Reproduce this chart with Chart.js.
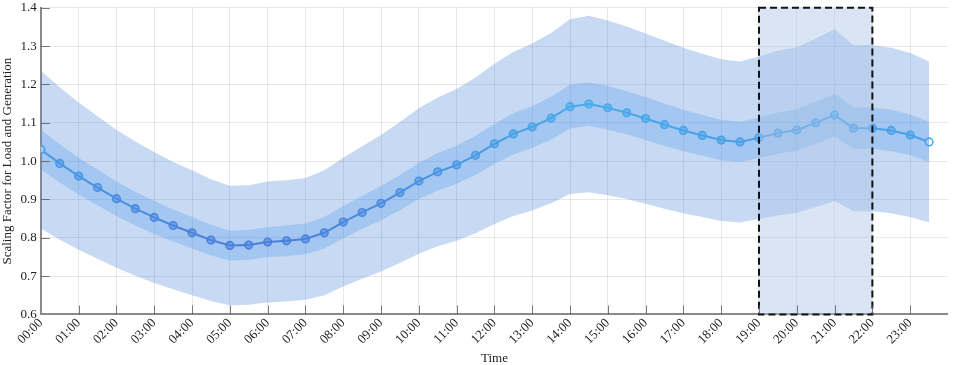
<!DOCTYPE html>
<html>
<head>
<meta charset="utf-8">
<script src="https://cdn.jsdelivr.net/npm/chart.js@4/dist/chart.umd.min.js"></script>
<style>
  html, body { margin: 0; padding: 0; background: #fff; overflow: hidden; }
  #wrap { width: 960px; height: 369px; margin-top: -4px; }
</style>
</head>
<body>
<div id="wrap"><canvas id="scaling"></canvas></div>
<script>
// Half-hourly time stamps
var times = ['00:00','00:30','01:00','01:30','02:00','02:30','03:00','03:30','04:00','04:30',
    '05:00','05:30','06:00','06:30','07:00','07:30','08:00','08:30','09:00','09:30',
    '10:00','10:30','11:00','11:30','12:00','12:30','13:00','13:30','14:00','14:30',
    '15:00','15:30','16:00','16:30','17:00','17:30','18:00','18:30','19:00','19:30',
    '20:00','20:30','21:00','21:30','22:00','22:30','23:00','23:30'];

// Mean scaling factor
var factor = [1.030, 0.994, 0.961, 0.931, 0.902, 0.876, 0.853, 0.832, 0.813, 0.794,
    0.780, 0.781, 0.789, 0.792, 0.797, 0.813, 0.841, 0.866, 0.890, 0.918,
    0.948, 0.972, 0.990, 1.015, 1.045, 1.071, 1.089, 1.112, 1.142, 1.149,
    1.139, 1.126, 1.111, 1.095, 1.080, 1.067, 1.055, 1.050, 1.061, 1.073,
    1.081, 1.100, 1.120, 1.086, 1.086, 1.080, 1.068, 1.050];

// Wide band (upper / lower)
var outerUpper = [1.236, 1.193, 1.153, 1.117, 1.082, 1.051, 1.024, 0.998, 0.976, 0.953,
    0.936, 0.937, 0.947, 0.950, 0.956, 0.976, 1.009, 1.039, 1.068, 1.102,
    1.138, 1.166, 1.188, 1.218, 1.254, 1.285, 1.307, 1.334, 1.370, 1.379,
    1.367, 1.351, 1.333, 1.314, 1.296, 1.280, 1.266, 1.260, 1.273, 1.288,
    1.297, 1.320, 1.344, 1.303, 1.303, 1.296, 1.282, 1.260];
var outerLower = [0.824, 0.795, 0.769, 0.745, 0.722, 0.701, 0.682, 0.666, 0.650, 0.635,
    0.624, 0.625, 0.631, 0.634, 0.638, 0.650, 0.673, 0.693, 0.712, 0.734,
    0.758, 0.778, 0.792, 0.812, 0.836, 0.857, 0.871, 0.890, 0.914, 0.919,
    0.911, 0.901, 0.889, 0.876, 0.864, 0.854, 0.844, 0.840, 0.849, 0.858,
    0.865, 0.880, 0.896, 0.869, 0.869, 0.864, 0.854, 0.840];

// Narrow band (upper / lower)
var innerUpper = [1.082, 1.044, 1.009, 0.978, 0.947, 0.920, 0.896, 0.874, 0.854, 0.834,
    0.819, 0.820, 0.828, 0.832, 0.837, 0.854, 0.883, 0.909, 0.935, 0.964,
    0.995, 1.021, 1.040, 1.066, 1.097, 1.125, 1.143, 1.168, 1.199, 1.206,
    1.196, 1.182, 1.167, 1.150, 1.134, 1.120, 1.108, 1.103, 1.114, 1.127,
    1.135, 1.155, 1.176, 1.140, 1.140, 1.134, 1.121, 1.103];
var innerLower = [0.979, 0.944, 0.913, 0.884, 0.857, 0.832, 0.810, 0.790, 0.772, 0.754,
    0.741, 0.742, 0.750, 0.752, 0.757, 0.772, 0.799, 0.823, 0.846, 0.872,
    0.901, 0.923, 0.941, 0.964, 0.993, 1.017, 1.035, 1.056, 1.085, 1.092,
    1.082, 1.070, 1.055, 1.040, 1.026, 1.014, 1.002, 0.998, 1.008, 1.019,
    1.027, 1.045, 1.064, 1.032, 1.032, 1.026, 1.015, 0.998];

// Highlighted window (hours)
var windowStart = 19;
var windowEnd = 22;

var FONT = "'Liberation Serif', 'DejaVu Serif', serif";

function toHour(t) {
    var p = t.split(':');
    return Number(p[0]) + Number(p[1]) / 60;
}

function points(values) {
    return values.map(function (v, i) { return { x: toHour(times[i]), y: v }; });
}

/**
 * Colour along the line, dark blue for low values, cyan for high
 * @param {Number} v
 * @param {Number} a alpha
 */
function valueColor(v, a) {
    var t = Math.max(0, Math.min(1, (v - 0.78) / (1.15 - 0.78)));
    var r = Math.round(74 + (70 - 74) * t);
    var g = Math.round(108 + (198 - 108) * t);
    var b = Math.round(214 + (248 - 214) * t);
    return 'rgba(' + r + ',' + g + ',' + b + ',' + a + ')';
}

var last = factor.length - 1;

const windowBox = {
    id: 'windowBox',
    afterDatasetsDraw(chart) {
        const { ctx, chartArea, scales } = chart;
        const x0 = scales.x.getPixelForValue(windowStart);
        const x1 = scales.x.getPixelForValue(windowEnd);
        const y0 = scales.y.getPixelForValue(1.4);
        const y1 = scales.y.getPixelForValue(0.6);
        ctx.save();
        ctx.fillStyle = 'rgba(170,196,232,0.45)';
        ctx.fillRect(x0, y0, x1 - x0, y1 - y0);
        ctx.strokeStyle = '#111';
        ctx.lineWidth = 2;
        ctx.setLineDash([7, 4]);
        ctx.strokeRect(x0, y0, x1 - x0, y1 - y0);
        ctx.restore();
    },
    afterDraw(chart) {
        // inward tick marks
        const { ctx, chartArea, scales } = chart;
        ctx.save();
        ctx.strokeStyle = 'rgba(90,90,90,0.8)';
        ctx.lineWidth = 1;
        scales.x.ticks.forEach(function (t) {
            if (t.value <= 0 || t.value >= 24) return;
            const px = Math.round(scales.x.getPixelForValue(t.value)) + 0.5;
            ctx.beginPath();
            ctx.moveTo(px, chartArea.bottom);
            ctx.lineTo(px, chartArea.bottom - 9);
            ctx.stroke();
        });
        scales.y.ticks.forEach(function (t) {
            if (t.value <= 0.6) return;
            const py = Math.round(scales.y.getPixelForValue(t.value)) + 0.5;
            ctx.beginPath();
            ctx.moveTo(chartArea.left, py);
            ctx.lineTo(chartArea.left + 9, py);
            ctx.stroke();
        });
        ctx.restore();
    }
};

const scalingChart = new Chart(document.getElementById('scaling'), {
    type: 'line',
    data: {
        datasets: [
            {
                data: points(outerUpper),
                borderWidth: 0,
                pointRadius: 0,
                fill: 1,
                backgroundColor: 'rgba(72,128,215,0.3)',
                tension: 0
            },
            {
                data: points(outerLower),
                borderWidth: 0,
                pointRadius: 0,
                fill: false,
                tension: 0
            },
            {
                data: points(innerUpper),
                borderWidth: 0,
                pointRadius: 0,
                fill: 3,
                backgroundColor: 'rgba(80,168,240,0.3)',
                tension: 0
            },
            {
                data: points(innerLower),
                borderWidth: 0,
                pointRadius: 0,
                fill: false,
                tension: 0
            },
            {
                data: points(factor),
                borderWidth: 2,
                fill: false,
                tension: 0,
                segment: {
                    borderColor: (c) => valueColor((c.p0.parsed.y + c.p1.parsed.y) / 2, 1)
                },
                pointRadius: 3.8,
                pointBorderWidth: 1.6,
                pointBorderColor: factor.map(function (v) { return valueColor(v, 1); }),
                pointBackgroundColor: factor.map(function (v, i) {
                    return (i === 0 || i === last) ? '#ffffff' : valueColor(v, 0.55);
                })
            }
        ]
    },
    options: {
        responsive: true,
        maintainAspectRatio: false,
        animation: false,
        layout: { padding: { left: 0, right: 4, top: -6, bottom: -1 } },
        plugins: {
            legend: { display: false },
            tooltip: { enabled: false }
        },
        scales: {
            x: {
                type: 'linear',
                min: 0,
                max: 24,
                ticks: {
                    stepSize: 1,
                    autoSkip: false,
                    maxRotation: 45,
                    minRotation: 45,
                    padding: 1,
                    color: '#222',
                    font: { family: FONT, size: 13 },
                    callback: function (v) {
                        if (v >= 24) return '';
                        return (v < 10 ? '0' : '') + v + ':00';
                    }
                },
                grid: {
                    drawTicks: false,
                    color: (c) => (c.tick && c.tick.value >= 24) ? 'rgba(0,0,0,0)' : 'rgba(0,0,0,0.09)'
                },
                border: { color: '#8a8a8a', width: 2 },
                title: {
                    display: true,
                    text: 'Time',
                    color: '#222',
                    padding: { top: 2, bottom: 0 },
                    font: { family: FONT, size: 13 }
                }
            },
            y: {
                min: 0.6,
                max: 1.4,
                ticks: {
                    stepSize: 0.1,
                    padding: 4,
                    color: '#222',
                    font: { family: FONT, size: 13 }
                },
                grid: {
                    drawTicks: false,
                    color: 'rgba(0,0,0,0.09)'
                },
                border: { color: '#8a8a8a', width: 2 },
                title: {
                    display: true,
                    text: 'Scaling Factor for Load and Generation',
                    color: '#222',
                    padding: { top: 0, bottom: 1 },
                    font: { family: FONT, size: 13 }
                }
            }
        }
    },
    plugins: [windowBox]
});
</script>
</body>
</html>
